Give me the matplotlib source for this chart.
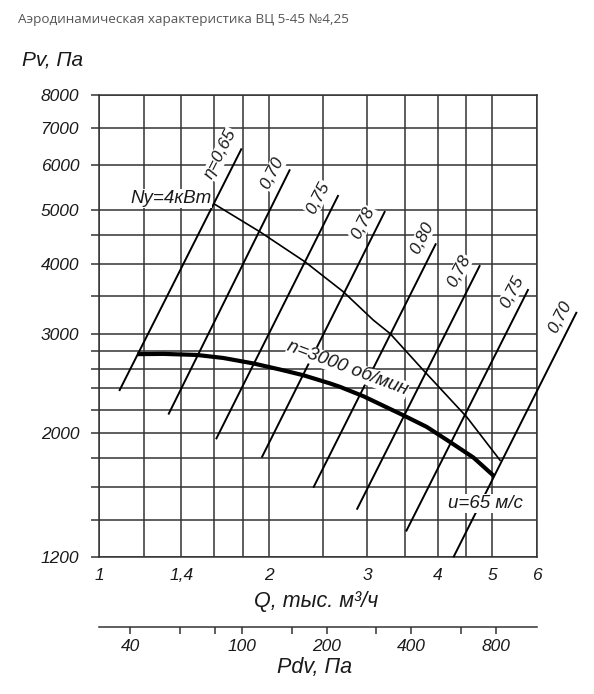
import numpy as np
import matplotlib
matplotlib.use('Agg')
import matplotlib.pyplot as plt
from matplotlib.ticker import FixedLocator, FixedFormatter, NullLocator

plt.rcParams['font.family'] = ['Liberation Sans', 'DejaVu Sans']

# ---------------- data ----------------
title = "Аэродинамическая характеристика ВЦ 5-45 №4,25"

q_grid = [1, 1.2, 1.4, 1.6, 1.8, 2, 2.5, 3, 3.5, 4, 4.5, 5, 6]
q_labels = ['1', '', '1,4', '', '', '2', '', '3', '', '4', '', '5', '6']

p_grid = [1200, 1400, 1600, 1800, 2000, 2200, 2400, 2600, 2800, 3000,
          3500, 4000, 4500, 5000, 6000, 7000, 8000]
p_labels = ['1200', '', '', '', '2000', '', '', '', '', '3000',
            '', '4000', '', '5000', '6000', '7000', '8000']

pdv_ticks = [40, 60, 80, 100, 150, 200, 300, 400, 600, 800]
pdv_labels = ['40', '', '', '100', '', '200', '', '400', '', '800']
q_at_pdv100 = 1.796   # Q (тыс. м3/ч) where Pdv = 100 Па

# pressure curve n = 3000 об/мин
curve_q = [1.169, 1.300, 1.491, 1.662, 1.879, 2.097, 2.307, 2.574, 2.681,
           2.950, 3.475, 3.824, 4.207, 4.630, 5.039]
curve_p = [2762, 2765, 2753, 2719, 2659, 2593, 2533, 2449, 2415,
           2324, 2149, 2049, 1926, 1807, 1674]

# power line Ny = 4 кВт
power_q = [1.602, 1.931, 2.323, 2.718, 3.073, 3.290, 3.771, 4.505, 5.164]
power_p = [5114, 4563, 4034, 3567, 3176, 3006, 2586, 2134, 1787]

# efficiency lines
eff_names = ['η=0,65', '0,70', '0,75', '0,78', '0,80', '0,78', '0,75', '0,70']
eff_q_lo = [1.085, 1.327, 1.613, 1.945, 2.403, 2.871, 3.513, 4.265]
eff_p_lo = [2375, 2156, 1948, 1807, 1597, 1459, 1334, 1200]
eff_q_hi = [1.792, 2.184, 2.663, 3.224, 3.973, 4.757, 5.799, 7.07]
eff_p_hi = [6426, 5896, 5306, 4969, 4352, 3980, 3607, 3285]
eff_lab_q = [1.644, 2.033, 2.449, 2.946, 3.747, 4.365, 5.418, 6.603]
eff_lab_p = [6280, 5798, 5252, 4728, 4447, 3883, 3567, 3219]

# annotations
ny_label, ny_q, ny_p = 'Ny=4кВт', 1.585, 5235
n_label, n_q, n_p = 'n=3000 об/мин', 2.765, 2603
u_label, u_q, u_p = 'u=65 м/с', 4.857, 1496

# ---------------- figure ----------------
W, H = 594, 694
fig = plt.figure(figsize=(W / 100, H / 100), dpi=100)
fig.patch.set_facecolor('white')
x0, x1, y0, y1 = 99.3, 536.7, 95.0, 557.3
ax = fig.add_axes([x0 / W, 1 - y1 / H, (x1 - x0) / W, (y1 - y0) / H])
ax.set_xscale('log')
ax.set_yscale('log')
ax.set_xlim(1, 6)
ax.set_ylim(1200, 8000)

grid_c = '#333333'
grid_lw = 1.1
txt_c = '#1a1a1a'
ax.xaxis.set_major_locator(FixedLocator(q_grid))
ax.xaxis.set_major_formatter(FixedFormatter(q_labels))
ax.xaxis.set_minor_locator(NullLocator())
ax.yaxis.set_major_locator(FixedLocator(p_grid))
ax.yaxis.set_major_formatter(FixedFormatter(p_labels))
ax.yaxis.set_minor_locator(NullLocator())
ax.grid(True, which='major', color=grid_c, lw=grid_lw)
ax.set_axisbelow(True)
for s in ax.spines.values():
    s.set_color(grid_c)
    s.set_linewidth(grid_lw)

ax.tick_params(axis='y', direction='out', length=6, width=grid_lw, color=grid_c, pad=8.5)
ax.tick_params(axis='x', direction='out', length=0, pad=8)
for lab in ax.get_xticklabels() + ax.get_yticklabels():
    lab.set_fontstyle('italic')
    lab.set_fontsize(12.5)
    lab.set_color(txt_c)

# efficiency lines
for i in range(len(eff_names)):
    ax.plot([eff_q_lo[i], eff_q_hi[i]], [eff_p_lo[i], eff_p_hi[i]],
            color='black', lw=1.4, clip_on=False, zorder=3, solid_capstyle='butt')
    ax.text(eff_lab_q[i], eff_lab_p[i], eff_names[i], rotation=63,
            rotation_mode='anchor', ha='center', va='center',
            fontsize=12.5, style='italic', color=txt_c, zorder=6,
            bbox=dict(fc='white', ec='none', pad=0.5))

# power line
ax.plot(power_q, power_p, color='black', lw=1.2, zorder=4, solid_joinstyle='round')
# pressure curve
ax.plot(curve_q, curve_p, color='black', lw=3.0, zorder=5,
        solid_capstyle='butt', solid_joinstyle='round')

ax.text(ny_q, ny_p, ny_label, ha='right', va='center', fontsize=13.5,
        style='italic', color=txt_c, zorder=6,
        bbox=dict(fc='white', ec='none', pad=0.5))
ax.text(n_q, n_p, n_label, ha='center', va='center', rotation=-20.5,
        rotation_mode='anchor', fontsize=13.5, style='italic', color=txt_c,
        zorder=6, bbox=dict(fc='white', ec='none', pad=0.3))
ax.text(u_q, u_p, u_label, ha='center', va='center', fontsize=13.5,
        style='italic', color=txt_c, zorder=6,
        bbox=dict(fc='white', ec='none', pad=0.6))

# secondary axis Pdv
def q_to_pdv(q):
    q = np.asarray(q, dtype=float)
    return 100.0 * (q / q_at_pdv100) ** 2

def pdv_to_q(p):
    p = np.asarray(p, dtype=float)
    return q_at_pdv100 * np.sqrt(np.clip(p, 1e-12, None) / 100.0)

loc = (y1 - 626.7) / (y1 - y0)
sec = ax.secondary_xaxis(loc, functions=(q_to_pdv, pdv_to_q))
sec.set_xticks(pdv_ticks)
sec.set_xticklabels(pdv_labels)
sec.xaxis.set_minor_locator(NullLocator())
sec.spines['bottom'].set_color(grid_c)
sec.spines['bottom'].set_linewidth(grid_lw)
sec.tick_params(axis='x', direction='out', length=5, width=grid_lw, color=grid_c, pad=3.5)
for lab in sec.get_xticklabels():
    lab.set_fontstyle('italic')
    lab.set_fontsize(12.5)
    lab.set_color(txt_c)

# figure texts
fig.text(18 / W, 1 - 20 / H, title, ha='left', va='center', fontsize=9.7,
         color='#555555', family=['Open Sans', 'DejaVu Sans'])
fig.text(22 / W, 1 - 60 / H, 'Pv, Па', ha='left', va='center', fontsize=15,
         style='italic', color=txt_c)
fig.text(316 / W, 1 - 601 / H, 'Q, тыс. м³/ч', ha='center', va='center',
         fontsize=15.5, style='italic', color=txt_c)
fig.text(315 / W, 1 - 668 / H, 'Pdv, Па', ha='center', va='center',
         fontsize=15.5, style='italic', color=txt_c)

fig.savefig('out.png', dpi=100, facecolor='white')
